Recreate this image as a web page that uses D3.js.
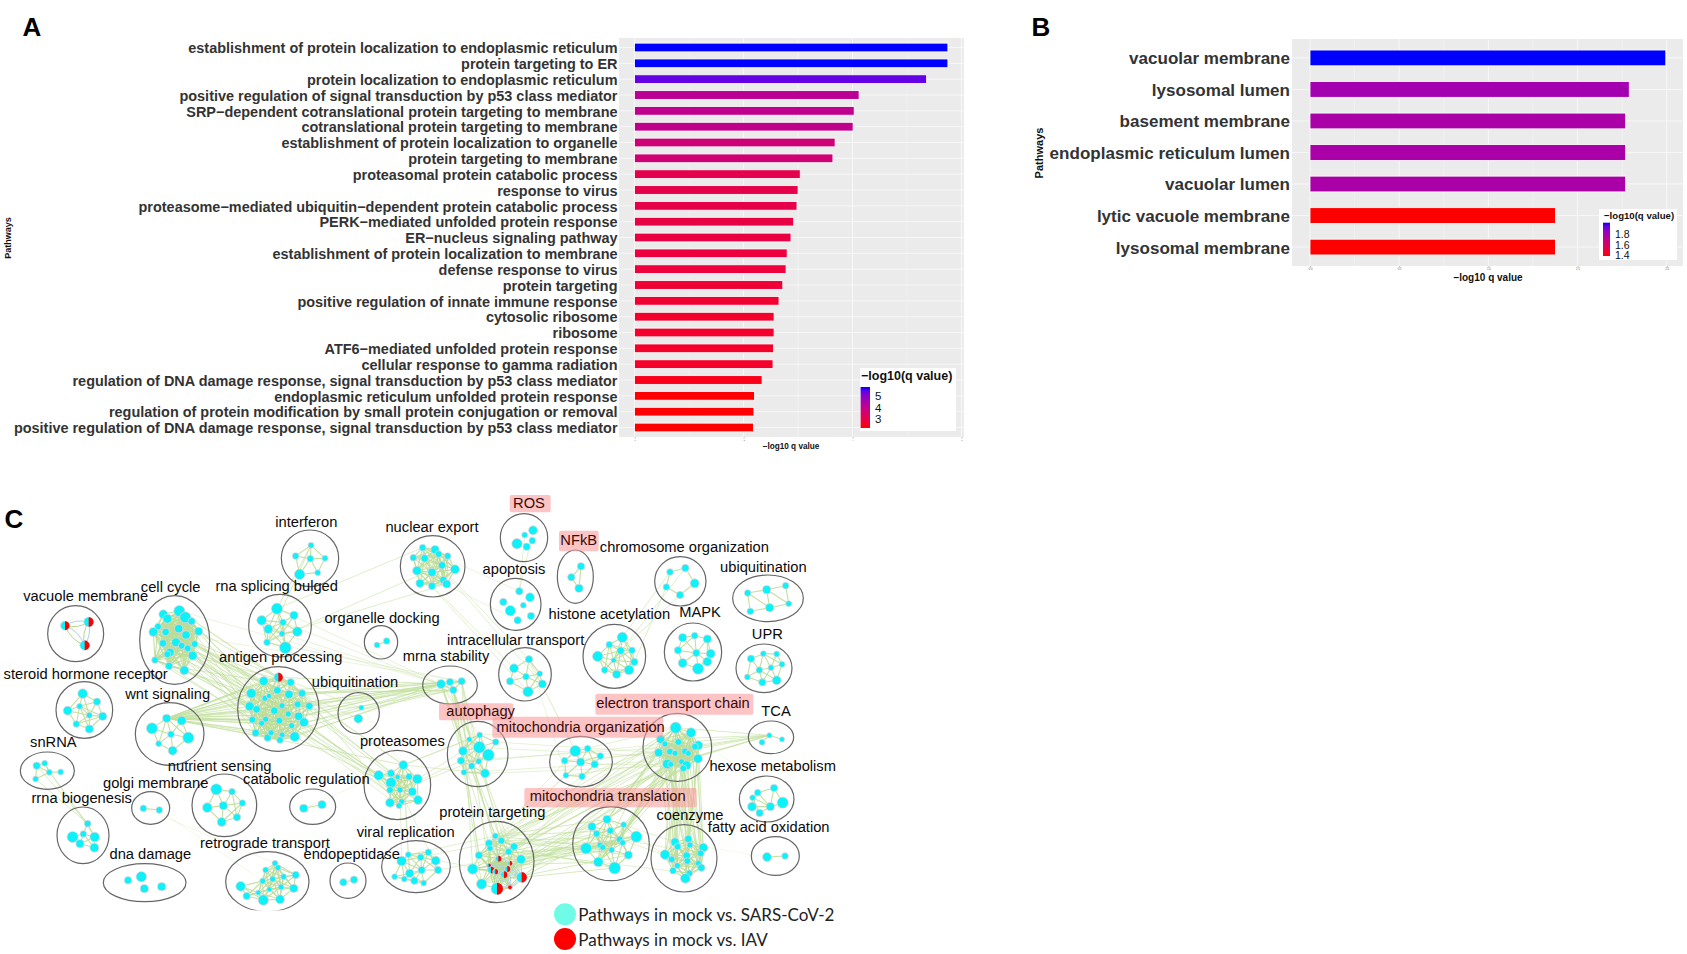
<!DOCTYPE html>
<html><head><meta charset="utf-8">
<script src="https://cdnjs.cloudflare.com/ajax/libs/d3/7.8.5/d3.min.js"></script>
<style>html,body{margin:0;padding:0;background:#fff}svg{display:block}</style>
</head><body><svg id="c" width="1687" height="954"></svg>
<script>
// ---------- Panel A data ----------
const pathwaysA = ["establishment of protein localization to endoplasmic reticulum","protein targeting to ER","protein localization to endoplasmic reticulum","positive regulation of signal transduction by p53 class mediator","SRP−dependent cotranslational protein targeting to membrane","cotranslational protein targeting to membrane","establishment of protein localization to organelle","protein targeting to membrane","proteasomal protein catabolic process","response to virus","proteasome−mediated ubiquitin−dependent protein catabolic process","PERK−mediated unfolded protein response","ER−nucleus signaling pathway","establishment of protein localization to membrane","defense response to virus","protein targeting","positive regulation of innate immune response","cytosolic ribosome","ribosome","ATF6−mediated unfolded protein response","cellular response to gamma radiation","regulation of DNA damage response, signal transduction by p53 class mediator","endoplasmic reticulum unfolded protein response","regulation of protein modification by small protein conjugation or removal","positive regulation of DNA damage response, signal transduction by p53 class mediator"];
const valuesA = [5.75,5.75,5.36,4.12,4.03,4.01,3.68,3.64,3.04,3.0,2.98,2.92,2.87,2.8,2.78,2.72,2.65,2.56,2.56,2.55,2.54,2.34,2.2,2.19,2.18];
const ticksA = [0,2,4,6];
const legendTicksA = [5,4,3];
// ---------- Panel B data ----------
const pathwaysB = ["vacuolar membrane","lysosomal lumen","basement membrane","endoplasmic reticulum lumen","vacuolar lumen","lytic vacuole membrane","lysosomal membrane"];
const valuesB = [1.995,1.79,1.77,1.77,1.77,1.376,1.376];
const ticksB = [0,0.5,1,1.5,2];
const legendTicksB = [1.8,1.6,1.4];
// ---------- Panel C network: [name, ellipse, label point, nodes [x,y,size,kind], link reach] in layout units ----------
const leftClusters = [
["vacuole membrane",[227,461,84,84],[257,349],[[195,437,12,1],[266,426,13,1],[254,496,13,1]],0],
["cell cycle",[524,480,105,133],[512,321],[[538,393,15],[490,403,12],[502,416,12],[556,412,15],[575,424,10],[474,440,9],[460,456,12],[497,456,10],[536,446,11],[596,454,11],[558,465,11],[489,490,10],[528,487,12],[545,497,9],[584,492,9],[563,505,9],[510,517,11],[502,523,9],[578,527,12],[465,540,9],[507,558,10],[553,571,12]],120],
["rna splicing bulged",[840,437,94,94],[830,319],[[831,386,15],[785,421,13],[882,406,11],[849,427,9],[805,447,12],[846,461,8],[892,455,13],[801,487,9],[856,503,16]],80],
["interferon",[930,235,86,85],[919,127],[[933,196,8],[887,228,9],[931,236,9],[975,235,8],[899,283,14],[953,278,8]],65],
["nuclear export",[1298,259,97,92],[1296,141],[[1268,203,9],[1305,209,11],[1316,222,9],[1240,233,9],[1274,235,10],[1343,228,9],[1326,256,10],[1251,272,12],[1296,277,11],[1260,310,11],[1296,318,10],[1330,300,10],[1340,312,11],[1365,268,12]],100],
["organelle docking",[1143,487,50,50],[1146,414],[[1131,495,8],[1160,483,9]],40],
["antigen processing",[835,687,122,127],[842,532],[[835,592,12,1],[791,603,12],[872,607,10],[754,640,13],[832,631,10],[867,643,11],[906,640,10],[795,655,8],[807,648,7],[749,679,12],[770,688,10],[846,677,8],[893,673,9],[928,678,10],[823,692,10],[865,702,8],[757,719,9],[797,718,8],[785,730,8],[838,722,9],[896,709,11],[912,727,12],[875,737,8],[767,759,10],[803,773,10],[813,758,8],[846,765,8],[840,780,9],[884,770,13]],95],
["ubiquitination",[1076,700,62,62],[1065,608],[[1084,683,7],[1075,716,12]],0],
["mrna stability",[1350,615,82,57],[1338,530],[[1323,612,12],[1350,606,10],[1385,604,10],[1360,630,10]],60],
["steroid hormone receptor",[253,690,85,85],[257,582],[[248,641,13],[291,665,10],[203,692,12],[239,679,8],[308,709,11],[268,706,8],[229,732,9],[268,747,11]],85],
["wnt signaling",[509,762,103,94],[503,643],[[500,715,11],[545,722,12],[456,745,15],[513,763,9],[565,773,15],[476,791,8],[518,812,12]],90],
["snRNA",[142,872,81,56],[160,787],[[110,857,10],[134,850,8],[148,877,8],[182,876,8],[107,897,8]],50],
["rrna biogenesis",[249,1066,78,85],[245,955],[[263,1031,9],[250,1062,9],[218,1071,15],[284,1071,13],[240,1091,11],[283,1103,12]],55],
["golgi membrane",[452,984,57,49],[467,909],[[430,985,9],[478,990,9]],60],
["nutrient sensing",[673,976,97,94],[659,860],[[649,928,15],[696,935,9],[727,969,9],[670,977,11],[622,983,13],[711,1012,10],[665,1026,12]],85],
["catabolic regulation",[938,980,69,53],[919,898],[[911,985,11],[966,974,11]],60],
["proteasomes",[1192,915,100,104],[1207,783],[[1210,855,12],[1136,886,13],[1173,880,10],[1193,891,7],[1227,890,9],[1252,897,13],[1173,908,14],[1200,930,8],[1170,930,9],[1237,935,11],[1254,960,12],[1170,968,12],[1205,965,8],[1197,977,8]],80],
["dna damage",[434,1208,124,57],[451,1124],[[384,1201,10],[424,1190,14],[433,1226,11],[485,1220,11]],0],
["retrograde transport",[802,1205,125,90],[795,1089],[[825,1150,8],[834,1163,8],[797,1170,8],[887,1185,10],[851,1190,8],[818,1197,8],[788,1203,8],[722,1219,13],[808,1228,7],[843,1221,8],[881,1225,11],[775,1238,7],[740,1248,10],[790,1260,14],[840,1258,12]],85],
["endopeptidase",[1044,1202,54,53],[1055,1122],[[1030,1207,10],[1062,1199,10]],40],
["viral replication",[1248,1160,103,78],[1217,1056],[[1225,1124,8],[1285,1117,9],[1262,1132,9],[1205,1143,13],[1307,1142,12],[1265,1170,10],[1314,1170,10],[1229,1180,11],[1184,1190,8],[1213,1197,8],[1243,1202,10],[1271,1209,8]],70]
];
const rightClusters = [
["ROS",[282,173,71,72],[297,71],[[309,151,12],[284,165,8],[307,182,9],[261,191,14],[290,200,10]],0],
["apoptosis",[257,373,76,78],[252,267],[[268,334,10],[220,366,10],[300,352,12],[280,376,8],[241,392,14],[303,408,10],[263,421,10]],0],
["NFkB",[436,290,54,80],[446,181],[[453,259,10],[424,292,10],[447,325,11]],70],
["chromosome organization",[751,304,77,74],[763,201],[[720,276,9],[766,264,10],[709,321,9],[794,310,12],[750,345,10]],75],
["ubiquitination",[1014,355,106,70],[1000,261],[[953,339,9],[1010,329,11],[1067,317,9],[1076,371,8],[1019,383,11],[961,394,9]],80],
["histone acetylation",[553,529,94,96],[538,404],[[577,472,14],[538,494,9],[572,512,10],[606,511,9],[503,529,14],[551,541,7],[613,546,10],[524,570,9],[560,583,11],[597,570,13]],85],
["MAPK",[789,516,86,87],[810,397],[[758,473,11],[794,467,9],[832,477,11],[744,511,10],[799,519,10],[842,521,12],[758,549,12],[832,545,12],[804,566,15]],70],
["UPR",[1002,565,84,73],[1012,464],[[963,536,10],[1000,521,8],[1040,522,8],[1056,553,8],[988,570,9],[1023,563,8],[952,591,8],[997,607,10],[1040,601,12]],65],
["intracellular transport",[285,583,79,80],[257,480],[[297,538,10],[252,565,12],[329,581,8],[288,590,9],[240,604,10],[337,612,11],[294,635,14]],70],
["autophagy",[143,822,91,98],[152,695],[[149,765,8],[118,778,7],[197,786,9],[148,802,16],[99,813,12],[175,825,16],[93,842,10],[146,844,8],[125,858,9],[102,877,8],[165,880,12]],70],
["mitochondria organization",[453,845,94,76],[452,742],[[436,813,15],[473,806,9],[511,828,9],[404,842,9],[452,846,11],[494,853,10],[408,886,8],[456,889,9]],65],
["electron transport chain",[742,802,103,102],[729,671],[[737,743,15],[783,758,13],[692,778,11],[805,796,12],[745,786,9],[795,800,9],[705,792,8],[720,815,9],[735,820,8],[686,818,11],[765,814,9],[775,820,8],[804,836,12],[712,852,13],[755,845,8],[770,856,12],[760,865,9],[722,853,8]],100],
["TCA",[1023,772,68,49],[1038,695],[[1018,766,7],[1056,778,7],[996,787,8]],45],
["hexose metabolism",[1010,957,82,69],[1028,860],[[1032,924,10],[983,938,9],[968,953,8],[1058,968,15],[966,980,12],[1021,980,11],[989,999,10]],60],
["mitochondria translation",[543,1091,115,111],[533,949],[[531,1018,11],[486,1040,11],[500,1061,9],[541,1052,9],[581,1034,8],[619,1070,15],[569,1078,9],[578,1088,8],[510,1095,8],[518,1102,8],[468,1105,15],[595,1125,11],[505,1146,13],[554,1164,16],[545,1110,8]],80],
["coenzyme",[762,1135,99,101],[780,1007],[[735,1086,11],[775,1077,10],[743,1100,9],[820,1103,12],[780,1095,8],[705,1124,13],[770,1127,10],[812,1120,9],[725,1138,9],[772,1143,9],[742,1157,8],[805,1150,8],[814,1163,10],[729,1172,9],[778,1180,9],[766,1195,13]],75],
["fatty acid oxidation",[1036,1128,72,58],[1016,1043],[[1011,1131,12],[1065,1128,9]],60],
["protein targeting",[200,1146,112,122],[187,998],[[196,1068,8],[177,1090,10],[214,1082,9],[180,1105,8],[252,1100,10],[236,1115,9],[147,1126,10],[205,1136,8,1],[273,1138,12],[240,1150,6,1],[176,1157,6,1],[232,1167,8,1],[128,1167,14],[183,1170,9,1],[196,1175,7,1],[222,1184,9,1],[275,1192,14,1],[155,1212,14],[201,1226,16,1],[240,1222,6,2]],70]
];
const rightFrameShift = 1290;
const highlighted = [["ROS",[239,45,362,97]],["NFkB",[387,152,506,214]],["autophagy",[27,670,250,721]],["mitochondria organization",[187,710,700,773]],["electron transport chain",[496,641,970,704]],["mitochondria translation",[283,924,800,982]]];
// inter-cluster bundles: [from, to, number of links, strength]
const bundles = [
["cell cycle","antigen processing",34,1],["wnt signaling","antigen processing",30,1],["antigen processing","mrna stability",20,1],["antigen processing","proteasomes",12,1],["cell cycle","proteasomes",6,.7],
["rna splicing bulged","interferon",2,1],["rna splicing bulged","nuclear export",3,.8],["rna splicing bulged","mrna stability",4,.6],["cell cycle","mrna stability",2,.5],
["mrna stability","protein targeting",14,.9],["nuclear export","intracellular transport",4,.7],["nuclear export","apoptosis",2,.5],["intracellular transport","mitochondria organization",3,.5],
["apoptosis","ROS",2,.7],["chromosome organization","histone acetylation",4,.8],["autophagy","electron transport chain",7,.6],["mitochondria organization","electron transport chain",6,.7],
["electron transport chain","TCA",9,.9],["electron transport chain","coenzyme",40,1],["electron transport chain","mitochondria translation",22,1],["electron transport chain","protein targeting",20,.9],
["mitochondria translation","protein targeting",26,1],["mitochondria organization","protein targeting",5,.7],["proteasomes","autophagy",6,.8],["proteasomes","viral replication",4,.7],["protein targeting","viral replication",4,.7],
["snRNA","rrna biogenesis",4,.9],["golgi membrane","retrograde transport",2,.35],["catabolic regulation","proteasomes",1,.35],["ubiquitination","antigen processing",3,.7],["ubiquitination","proteasomes",1,.4],
["electron transport chain","hexose metabolism",1,.3],["coenzyme","fatty acid oxidation",1,.3],["coenzyme","mitochondria translation",5,.7],["autophagy","mrna stability",4,.7]
];
const legendC = [["Pathways in mock vs. SARS-CoV-2","#6ffbe6"],["Pathways in mock vs. IAV","#ff0000"]];

// ---------- drawing ----------
const svg = d3.select("#c");
const sans = "'Liberation Sans',Arial,sans-serif";
const defs = svg.append("defs");
let gid = 0;
function barPanel(o){
  const g = svg.append("g");
  const x = d3.scaleLinear().domain(o.xDomain).range(o.xRange);
  const y = d3.scaleBand().domain(o.cats).range([o.top,o.bottom]).paddingInner(o.pi).paddingOuter(o.po);
  const color = d3.scaleLinear().domain(d3.extent(o.values)).range(["#ff0000","#0000ff"]).interpolate(d3.interpolateLab);
  g.append("rect").attr("x",o.left).attr("y",o.top).attr("width",o.right-o.left).attr("height",o.bottom-o.top).attr("fill","#ebebeb");
  o.ticks.forEach((t,i)=>{
    g.append("line").attr("x1",x(t)).attr("x2",x(t)).attr("y1",o.top).attr("y2",o.bottom).attr("stroke","#f8f8f8").attr("stroke-width",.9);
    if(i<o.ticks.length-1){const m=(t+o.ticks[i+1])/2;
      g.append("line").attr("x1",x(m)).attr("x2",x(m)).attr("y1",o.top).attr("y2",o.bottom).attr("stroke","#f8f8f8").attr("stroke-width",.45);}
  });
  o.cats.forEach(c=>g.append("line").attr("x1",o.left).attr("x2",o.right).attr("y1",y(c)+y.bandwidth()/2).attr("y2",y(c)+y.bandwidth()/2).attr("stroke","#f8f8f8").attr("stroke-width",.9));
  g.selectAll("rect.bar").data(o.cats).join("rect").attr("class","bar")
    .attr("x",x(0)).attr("y",c=>y(c)).attr("height",y.bandwidth())
    .attr("width",(c,i)=>x(o.values[i])-x(0))
    .attr("fill",(c,i)=>color(o.values[i])).attr("stroke","#fff").attr("stroke-width",.8);
  const ay = g.append("g").attr("transform",`translate(${o.left},0)`).call(d3.axisLeft(y).tickSize(0).tickPadding(o.labelPad));
  ay.select(".domain").remove();
  ay.selectAll("text").attr("font-family",sans).attr("font-weight","bold").attr("font-size",o.labelSize).attr("fill","#333").attr("transform",`translate(0,${o.labelDy})`);
  const ax = g.append("g").attr("transform",`translate(0,${o.bottom})`).call(d3.axisBottom(x).tickValues(o.ticks).tickFormat(o.tickFormat).tickSize(1.5).tickPadding(.8));
  ax.select(".domain").remove();
  ax.selectAll("line").attr("stroke","#888").attr("stroke-width",.6);
  ax.selectAll("text").attr("font-family",sans).attr("font-size",o.tickSize).attr("fill","#666");
  g.append("text").attr("x",o.xTitle[0]).attr("y",o.xTitle[1]).attr("text-anchor","middle").attr("dominant-baseline","central")
    .attr("font-family",sans).attr("font-weight","bold").attr("font-size",o.xTitle[2]).attr("fill","#111").text("−log10 q value");
  g.append("text").attr("transform",`translate(${o.yTitle[0]},${o.yTitle[1]}) rotate(-90)`).attr("text-anchor","middle").attr("dominant-baseline","central")
    .attr("font-family",sans).attr("font-weight","bold").attr("font-size",o.yTitle[2]).attr("fill","#111").text("Pathways");
  const L=o.legend;
  g.append("rect").attr("x",L.box[0]).attr("y",L.box[1]).attr("width",L.box[2]-L.box[0]).attr("height",L.box[3]-L.box[1]).attr("fill","#fff");
  g.append("text").attr("x",L.title[0]).attr("y",L.title[1]).attr("dominant-baseline","central").attr("font-family",sans).attr("font-weight","bold").attr("font-size",L.title[2]).attr("fill","#111").text("−log10(q value)");
  const id="grad"+(gid++);
  const lg=defs.append("linearGradient").attr("id",id).attr("x1",0).attr("x2",0).attr("y1",1).attr("y2",0);
  d3.range(0,1.001,.1).forEach(t=>{lg.append("stop").attr("offset",t).attr("stop-color",color(color.domain()[0]+t*(color.domain()[1]-color.domain()[0])));});
  g.append("rect").attr("x",L.bar[0]).attr("y",L.bar[1]).attr("width",L.bar[2]-L.bar[0]).attr("height",L.bar[3]-L.bar[1]).attr("fill",`url(#${id})`);
  const ly=d3.scaleLinear().domain(color.domain()).range([L.bar[3],L.bar[1]]);
  L.ticks.forEach(t=>{
    g.append("text").attr("x",L.tickX).attr("y",ly(t)+.6).attr("dominant-baseline","central").attr("font-family",sans).attr("font-size",L.tickSize).attr("fill","#111").text(t);
  });
}
barPanel({cats:pathwaysA,values:valuesA,ticks:ticksA,tickFormat:d3.format("d"),xDomain:[0,6],xRange:[634.6,961.5],left:619,right:964,top:38,bottom:437,pi:.45,po:.325,labelSize:14.45,labelPad:1.5,labelDy:1.2,tickSize:2.5,
  xTitle:[791,446,8.2],yTitle:[7.5,238,9],
  legend:{box:[860,368,956,431],title:[861,376,12.5],bar:[860.6,387,870,428],ticks:legendTicksA,tickX:875,tickSize:11.5}});
barPanel({cats:pathwaysB,values:valuesB,ticks:ticksB,tickFormat:d3.format(".1f"),xDomain:[0,2],xRange:[1310,1666.7],left:1292,right:1683,top:39,bottom:266,pi:.5,po:.35,labelSize:17.05,labelPad:2,labelDy:1,tickSize:2.8,
  xTitle:[1488,277,10],yTitle:[1039,153,11],
  legend:{box:[1599,209,1677,260],title:[1604,215,9.6],bar:[1603,222.7,1610,256],ticks:legendTicksB,tickX:1615,tickSize:10.5}});

[["A",32,27],["B",1041,27],["C",14,519]].forEach(d=>svg.append("text").attr("x",d[1]).attr("y",d[2]).attr("text-anchor","middle").attr("dominant-baseline","central").attr("font-family",sans).attr("font-weight","bold").attr("font-size",26).attr("fill","#000").text(d[0]));

// panel C
const ux=d3.scaleLinear().domain([0,2640]).range([0,880]);
const uy=d3.scaleLinear().domain([0,1422]).range([480,954]);
const ur=d3.scaleLinear().domain([0,3]).range([0,1]);
const nodeR=d3.scaleLinear().domain([0,3]).range([0,1.12]);
const shiftC=c=>[c[0],[c[1][0]+rightFrameShift,c[1][1],c[1][2],c[1][3]],[c[2][0]+rightFrameShift,c[2][1]],c[3].map(n=>[n[0]+rightFrameShift,n[1],n[2],n[3]||0]),c[4]];
const clusters=leftClusters.map(c=>[c[0],c[1],c[2],c[3].map(n=>[n[0],n[1],n[2],n[3]||0]),c[4]]).concat(rightClusters.map(shiftC)).map((c,i)=>({id:i,name:c[0],ell:c[1],lab:c[2],nodes:c[3],reach:c[4]}));
const byName=new Map();clusters.forEach(c=>{if(!byName.has(c.name))byName.set(c.name,c)});
defs.append("clipPath").attr("id","netclip").append("rect").attr("x",0).attr("y",480).attr("width",900).attr("height",uy(1291)-480);
const net=svg.append("g").attr("clip-path","url(#netclip)");
const seg=(g,a,b,col,w,op)=>g.append("line").attr("x1",ux(a[0])).attr("y1",uy(a[1])).attr("x2",ux(b[0])).attr("y2",uy(b[1])).attr("stroke",col).attr("stroke-width",w).attr("stroke-opacity",op);
const gBund=net.append("g"),gMesh=net.append("g"),gEll=net.append("g"),gNode=net.append("g");
bundles.forEach(b=>{
  const A=byName.get(b[0]).nodes,B=byName.get(b[1]).nodes;
  for(let i=0;i<b[2];i++){seg(gBund,A[(i*7)%A.length],B[(i*5+i%3)%B.length],"#c3e09f",1,.68*b[3]);}
});
clusters.forEach(c=>{
  c.nodes.forEach((a,i)=>c.nodes.slice(i+1).forEach(b=>{
    const d=Math.hypot(a[0]-b[0],a[1]-b[1]);
    if(d<c.reach) seg(gMesh,a,b,"#bcdc96",1.1,.9);
    if(a[3]&&b[3]&&d<(c.name==="protein targeting"?70:200)){
      const mx=(a[0]+b[0])/2,my=(a[1]+b[1])/2,dx=b[1]-a[1],dy=a[0]-b[0];
      [[.22,"#a9d3ea"],[-.22,"#b3d98b"]].forEach(s=>{
        const p=d3.path();p.moveTo(ux(a[0]),uy(a[1]));p.quadraticCurveTo(ux(mx+s[0]*dx),uy(my+s[0]*dy),ux(b[0]),uy(b[1]));
        gMesh.append("path").attr("d",p.toString()).attr("fill","none").attr("stroke",s[1]).attr("stroke-width",1);
      });
    }
  }));
  gEll.append("ellipse").attr("cx",ux(c.ell[0])).attr("cy",uy(c.ell[1])).attr("rx",ur(c.ell[2])).attr("ry",ur(c.ell[3])).attr("fill","none").attr("stroke","#666").attr("stroke-width",1.2);
  c.nodes.forEach(n=>{
    gNode.append("circle").attr("cx",ux(n[0])).attr("cy",uy(n[1])).attr("r",nodeR(n[2])).attr("fill",n[3]===2?"#ff0000":"#0cf2f8").attr("stroke","#f7d0da").attr("stroke-width",.7);
    if(n[3]===1) gNode.append("path").attr("transform",`translate(${ux(n[0])},${uy(n[1])})`).attr("d",d3.arc()({innerRadius:0,outerRadius:nodeR(n[2]),startAngle:0,endAngle:Math.PI})).attr("fill","#ff0000");
  });
});
const gLab=svg.append("g");
highlighted.forEach(h=>{const b=h[1];
  gLab.append("rect").attr("x",ux(b[0]+rightFrameShift)).attr("y",uy(b[1])).attr("width",ur(b[2]-b[0])).attr("height",ur(b[3]-b[1])).attr("rx",2).attr("fill","#fa9a9a").attr("fill-opacity",.58);
});
const hiNames=new Set(highlighted.map(h=>h[0]));
clusters.forEach(c=>gLab.append("text").attr("x",ux(c.lab[0])).attr("y",uy(c.lab[1])-.5).attr("text-anchor","middle").attr("dominant-baseline","central").attr("font-family",sans).attr("font-size",14.7).attr("fill",hiNames.has(c.name)?"#3a0a0a":"#0a0a0a").text(c.name));
legendC.forEach((l,i)=>{
  const cy=uy(1303+i*74),cx=ux(405+rightFrameShift);
  svg.append("circle").attr("cx",cx).attr("cy",cy).attr("r",ur(33)).attr("fill",l[1]);
  svg.append("text").attr("x",ux(445+rightFrameShift)).attr("y",cy).attr("dominant-baseline","central").attr("font-family","Lato,'Open Sans',sans-serif").attr("font-size",17.05).attr("fill","#222").text(l[0]);
});
</script></body></html>
